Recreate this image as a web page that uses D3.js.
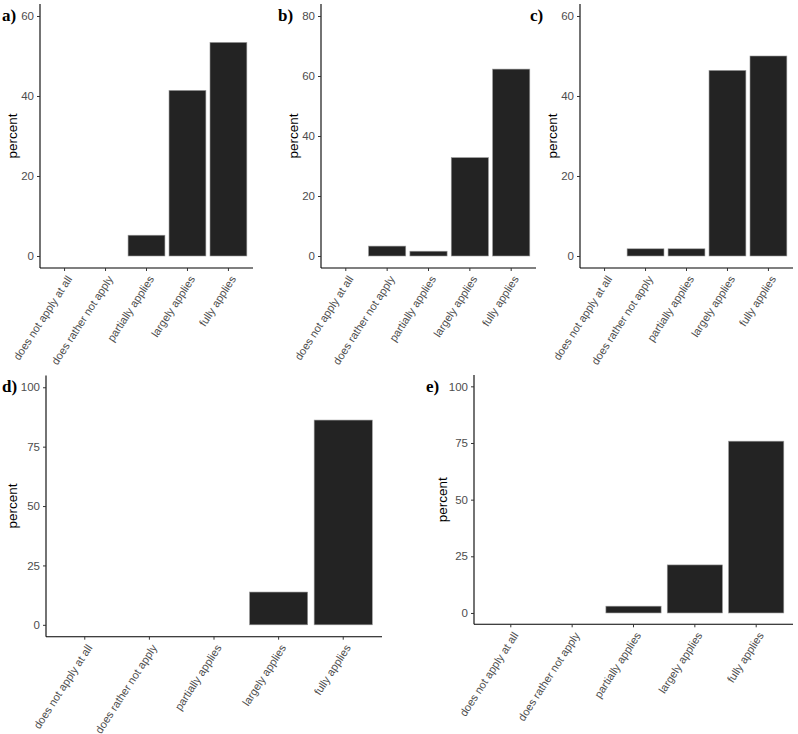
<!DOCTYPE html>
<html>
<head>
<meta charset="utf-8">
<script src="https://cdn.jsdelivr.net/npm/d3@7"></script>
<style>
  body { margin: 0; background: #fff; }
  svg { display: block; }
</style>
</head>
<body>
<svg id="chart" width="798" height="734"></svg>
<script>
// ---- data ----
const categories = ["does not apply at all", "does rather not apply", "partially applies", "largely applies", "fully applies"];
const panelTags = ["a)", "b)", "c)", "d)", "e)"];
const valuesA = [0, 0, 5.2, 41.4, 53.4];
const valuesB = [0, 3.3, 1.6, 32.8, 62.3];
const valuesC = [0, 1.8, 1.8, 46.4, 50.0];
const valuesD = [0, 0, 0, 13.8, 86.2];
const valuesE = [0, 0, 3.0, 21.2, 75.8];
const yMaxA = 60, yMaxB = 80, yMaxC = 60, yMaxD = 100, yMaxE = 100;
const ticksA = [0, 20, 40, 60];
const ticksB = [0, 20, 40, 60, 80];
const ticksC = [0, 20, 40, 60];
const ticksD = [0, 25, 50, 75, 100];
const ticksE = [0, 25, 50, 75, 100];
const yTitle = "percent";

// ---- layout ----
const panels = [
  { tag: panelTags[0], values: valuesA, ymax: yMaxA, ticks: ticksA, left: 40,  right: 253, top: 4,     bottom: 268,   tagX: 2,   tagY: 21,  titleX: 12 },
  { tag: panelTags[1], values: valuesB, ymax: yMaxB, ticks: ticksB, left: 321, right: 536, top: 4,     bottom: 268,   tagX: 278, tagY: 21,  titleX: 293 },
  { tag: panelTags[2], values: valuesC, ymax: yMaxC, ticks: ticksC, left: 580, right: 793, top: 4,     bottom: 268,   tagX: 530, tagY: 21,  titleX: 552 },
  { tag: panelTags[3], values: valuesD, ymax: yMaxD, ticks: ticksD, left: 46,  right: 382, top: 375.4, bottom: 636.7, tagX: 2,   tagY: 392, titleX: 12 },
  { tag: panelTags[4], values: valuesE, ymax: yMaxE, ticks: ticksE, left: 474, right: 793, top: 375,   bottom: 624.3, tagX: 426, tagY: 392, titleX: 442 }
];

const svg = d3.select("#chart");
const sans = "'Liberation Sans', Arial, Helvetica, sans-serif";

panels.forEach(p => {
  const g = svg.append("g");
  const y = d3.scaleLinear()
    .domain([-p.ymax * 0.05, p.ymax * 1.05])
    .range([p.bottom, p.top]);
  // discrete axis: categories at 1..5, expanded by 0.6 on each side
  const unit = (p.right - p.left) / (categories.length - 1 + 1.2);
  const x = d3.scaleBand()
    .domain(categories)
    .range([p.left + 0.1 * unit, p.right - 0.1 * unit])
    .paddingInner(0.1)
    .paddingOuter(0.05);

  // bars
  g.selectAll("rect.bar")
    .data(categories.map((c, i) => ({ c, v: p.values[i] })).filter(d => d.v > 0))
    .enter().append("rect")
    .attr("class", "bar")
    .attr("x", d => x(d.c))
    .attr("width", x.bandwidth())
    .attr("y", d => y(d.v))
    .attr("height", d => y(0) - y(d.v))
    .attr("fill", "#232323")
    .attr("stroke", "#9a9a9a")
    .attr("stroke-width", 0.6);

  // y axis
  const yAxis = d3.axisLeft(y).tickValues(p.ticks).tickSize(3).tickPadding(3).tickFormat(d3.format("d"));
  const ya = g.append("g").attr("transform", `translate(${p.left},0)`).call(yAxis);
  ya.select(".domain").attr("stroke", "#000").attr("stroke-width", 1.1).attr("d", `M0,${p.top}V${p.bottom}`);
  ya.selectAll(".tick line").attr("stroke", "#333").attr("stroke-width", 1);
  ya.selectAll(".tick text").attr("fill", "#4d4d4d").style("font-family", sans).style("font-size", "11.5px");

  // x axis
  const xAxis = d3.axisBottom(x).tickSize(3).tickPadding(3);
  const xa = g.append("g").attr("transform", `translate(0,${p.bottom})`).call(xAxis);
  xa.select(".domain").attr("stroke", "#000").attr("stroke-width", 1.1).attr("d", `M${p.left},0H${p.right}`);
  xa.selectAll(".tick line").attr("stroke", "#333").attr("stroke-width", 1);
  xa.selectAll(".tick text")
    .attr("fill", "#4d4d4d")
    .style("font-family", sans)
    .style("font-size", "11px")
    .attr("text-anchor", "end")
    .attr("x", 0).attr("y", 0).attr("dy", 0)
    .attr("transform", "translate(8,11) rotate(-57)");

  // y title
  g.append("text")
    .attr("transform", `translate(${p.titleX},${(p.top + p.bottom) / 2}) rotate(-90)`)
    .attr("text-anchor", "middle")
    .attr("dy", "0.35em")
    .style("font-family", sans)
    .style("font-size", "13.5px")
    .attr("fill", "#000")
    .text(yTitle);

  // panel tag
  g.append("text")
    .attr("x", p.tagX).attr("y", p.tagY)
    .style("font-family", "'Liberation Serif', 'Times New Roman', serif")
    .style("font-weight", "bold")
    .style("font-size", "17px")
    .attr("fill", "#000")
    .text(p.tag);
});
</script>
</body>
</html>
